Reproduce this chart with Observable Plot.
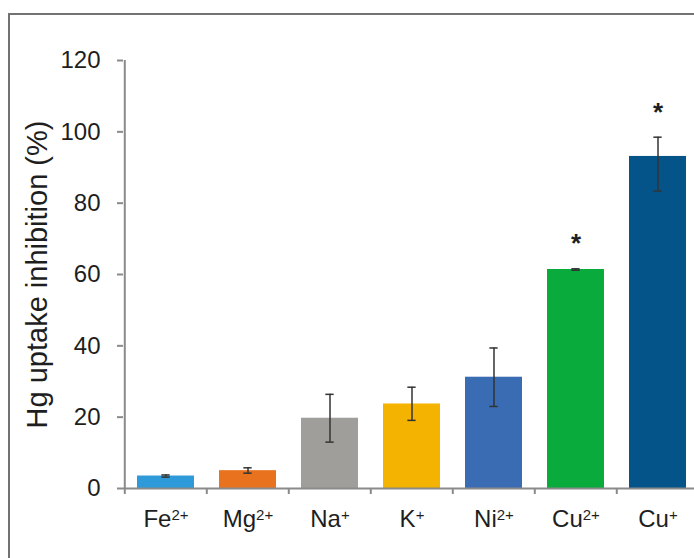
<!DOCTYPE html>
<html><head><meta charset="utf-8">
<script src="https://cdn.jsdelivr.net/npm/d3@7"></script>
<script src="https://cdn.jsdelivr.net/npm/@observablehq/plot@0.6"></script>
<style>
html,body{margin:0;padding:0;background:#fff;overflow:hidden;width:694px;height:558px;}
#wrap{position:relative;width:694px;height:558px;overflow:hidden;}
#frame{position:absolute;left:8px;top:13px;width:800px;height:800px;border-left:2px solid #727272;border-top:2px solid #727272;}
#chart{position:absolute;left:0;top:0;width:702px;}
#chart svg{max-width:none !important;}
</style></head><body>
<div id="wrap"><div id="frame"></div><div id="chart"></div></div>
<script>
// Data
const ions    = ["Fe", "Mg", "Na", "K", "Ni", "Cu", "Cu"];
const charges = ["2+", "2+", "+", "+", "2+", "2+", "+"];
const values  = [3.5, 5.0, 19.7, 23.7, 31.2, 61.4, 93.1];
const errLow  = [3.2, 4.3, 13.0, 19.1, 23.0, 61.2, 83.4];
const errHigh = [3.8, 5.8, 26.4, 28.4, 39.4, 61.6, 98.5];
const sig     = ["", "", "", "", "", "*", "*"];
const colors  = ["#2f9ad9", "#e8721d", "#a09e9b", "#f3b300", "#3a6cb4", "#09ab3c", "#045489"];
const yTicks  = [0, 20, 40, 60, 80, 100, 120];
const yLabel  = "Hg uptake inhibition (%)";

const cats = ions.map((d, i) => d + charges[i]);
const data = cats.map((c, i) => ({c, v: values[i], lo: errLow[i], hi: errHigh[i], sig: sig[i], color: colors[i]}));

const W = 702, H = 558, ML = 123, MR = 2, MT = 60, MB = 70;
const step = (W - ML - MR) / cats.length;
const pad = 0.3;
const bw = step * (1 - pad);
const capW = 9;
const tickLenData = 6 * (yTicks[yTicks.length - 1] - yTicks[0]) / (H - MT - MB);
const axisColor = "#8a8a8a";

const plot = Plot.plot({
  width: W, height: H,
  marginLeft: ML, marginRight: MR, marginTop: MT, marginBottom: MB,
  style: {fontFamily: "'Liberation Sans', Arial, sans-serif", fontSize: "24px", color: "#1e1e1e", background: "transparent", overflow: "visible", maxWidth: "none"},
  x: {domain: cats, paddingInner: pad, paddingOuter: pad / 2, label: null},
  y: {domain: [0, 120], label: null},
  color: {type: "identity"},
  marks: [
    Plot.barY(data, {x: "c", y: "v", fill: d => d.color}),
    Plot.ruleX(data, {x: "c", y1: "lo", y2: "hi", stroke: "#333", strokeWidth: 1.5}),
    Plot.tickY(data, {x: "c", y: "lo", stroke: "#333", strokeWidth: 1.5, insetLeft: (bw - capW) / 2, insetRight: (bw - capW) / 2}),
    Plot.tickY(data, {x: "c", y: "hi", stroke: "#333", strokeWidth: 1.5, insetLeft: (bw - capW) / 2, insetRight: (bw - capW) / 2}),
    Plot.text(data.filter(d => d.sig), {x: "c", y: "hi", text: "sig", dy: -25, fontSize: 26, fontWeight: "bold", fill: "#1e1e1e"}),
    Plot.ruleY([0], {stroke: axisColor, strokeWidth: 2}),
    Plot.ruleX([cats[0]], {x: d => d, dx: -step / 2, stroke: axisColor, strokeWidth: 2}),
    Plot.ruleX(cats, {x: d => d, dx: -step / 2, y1: 0, y2: -tickLenData, stroke: axisColor, strokeWidth: 2}),
    Plot.axisY({ticks: yTicks, tickSize: 6, tickPadding: 17, stroke: axisColor, strokeWidth: 2, label: null, fontSize: 24, fill: "#1e1e1e"}),
    Plot.axisX({tickSize: 0, tickPadding: 21, label: null, fontSize: 24, fill: "#1e1e1e"}),
    Plot.text([yLabel], {frameAnchor: "left", textAnchor: "middle", text: d => d, rotate: -90, dx: -86, fontSize: 29, fill: "#1e1e1e"})
  ]
});

// superscript charges on x tick labels
d3.select(plot).selectAll("text").each(function() {
  const t = this.textContent;
  const i = cats.indexOf(t);
  if (i < 0) return;
  const sel = d3.select(this);
  sel.text(null);
  sel.append("tspan").text(ions[i]);
  sel.append("tspan").attr("font-size", "15px").attr("dy", "-7").text(charges[i]);
});

document.getElementById("chart").appendChild(plot);
</script>
</body></html>
